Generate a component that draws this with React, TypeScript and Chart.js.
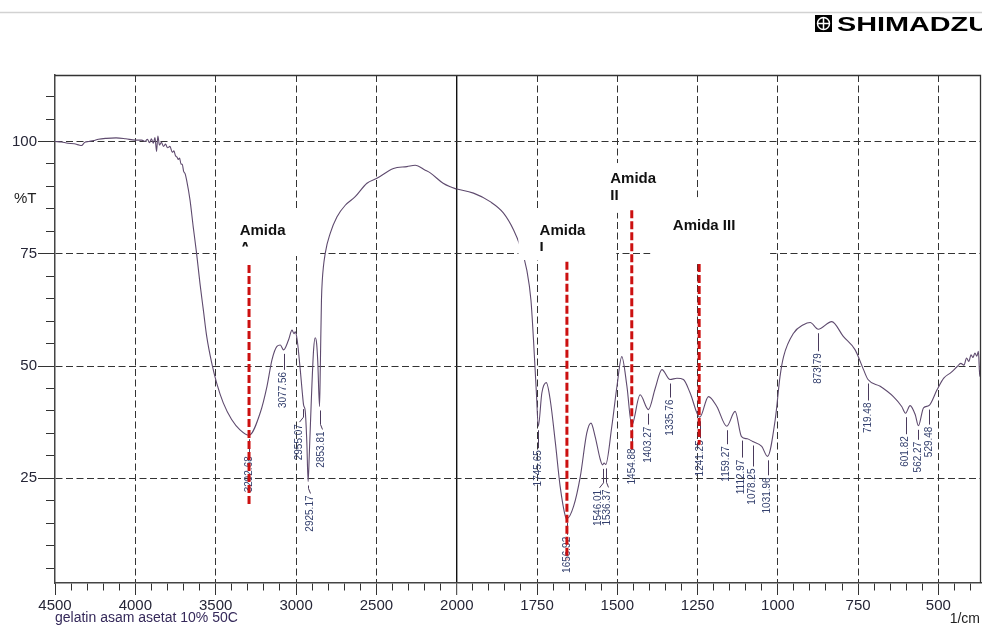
import React, { useEffect, useRef } from 'react';
import { Chart, registerables } from 'chart.js';

Chart.register(...registerables);

// ---------- Spectrum data (wavenumber 1/cm, %T) ----------
// High-wavenumber section (4500 -> 2000), drawn on the compressed left axis
const HIGH_WN = [
  4500, 4460, 4420, 4380, 4350, 4335, 4315, 4290, 4260, 4230, 4180, 4120, 4060, 4000,
  3960, 3940, 3925, 3912, 3900, 3888, 3878, 3868, 3860, 3850, 3838, 3825, 3812, 3800,
  3785, 3770, 3760, 3750, 3740, 3733, 3725, 3716, 3708, 3700, 3690, 3681, 3660, 3640,
  3619, 3598, 3577, 3556, 3525, 3494, 3453, 3401, 3349, 3292, 3223, 3181, 3150, 3119,
  3098, 3078, 3047, 3025, 3013, 3005, 2993, 2974, 2961, 2953, 2943, 2933, 2925, 2918,
  2905, 2891, 2881, 2872, 2865, 2854, 2849, 2842, 2837, 2818, 2787, 2746, 2694, 2632,
  2559, 2497, 2394, 2310, 2259, 2196, 2165, 2085, 2040, 2000,
];
const HIGH_T = [
  100.0, 99.9, 99.6, 99.5, 99.2, 99.1, 99.8, 100.0, 100.2, 100.5, 100.7, 100.8, 100.6, 100.3,
  100.3, 100.0, 100.5, 99.7, 100.6, 99.6, 100.9, 97.8, 101.2, 99.2, 99.8, 98.9, 99.4, 98.6,
  98.9, 97.6, 97.9, 96.8, 96.5, 96.0, 96.3, 95.0, 94.9, 93.4, 92.8, 91.4, 87.0, 81.0,
  75.1, 68.4, 62.5, 56.6, 50.7, 46.2, 41.8, 38.1, 35.8, 34.6, 39.6, 45.5, 51.4, 54.4,
  54.7, 53.6, 55.8, 58.0, 57.2, 57.6, 55.8, 49.2, 44.0, 41.3, 40.0, 33.0, 24.3, 30.0,
  42.5, 53.6, 56.3, 55.0, 51.0, 41.0, 50.0, 64.7, 69.0, 75.2, 79.6, 83.2, 85.8, 87.7,
  90.7, 91.8, 94.0, 94.4, 94.7, 93.6, 93.0, 90.7, 89.9, 89.4,
];
// Low-wavenumber section (2000 -> 367), drawn on the expanded right axis
const LOW_WN = [
  2000, 1948, 1896, 1855, 1823, 1802, 1782, 1769, 1761, 1752, 1746, 1735, 1721, 1709,
  1693, 1678, 1662, 1657, 1636, 1615, 1595, 1582, 1569, 1553, 1546, 1541, 1536, 1517,
  1501, 1486, 1470, 1455, 1429, 1403, 1382, 1361, 1336, 1314, 1294, 1273, 1243, 1216,
  1190, 1159, 1133, 1113, 1095, 1078, 1050, 1032, 1008, 993, 982, 951, 920, 899,
  874, 832, 796, 759, 733, 719, 681, 640, 614, 602, 588, 572, 562, 546,
  529, 504, 483, 460, 441, 430, 420, 412, 405, 398, 392, 386, 380, 375, 371, 367,
];
const LOW_T = [
  89.4, 88.5, 86.6, 84.1, 80.3, 76.6, 71.4, 64.7, 55.8, 44.0, 36.6, 44.0, 46.3, 42.5,
  33.0, 23.2, 16.6, 16.0, 18.8, 25.5, 35.1, 37.3, 34.3, 29.2, 28.0, 28.4, 28.1, 36.6,
  45.5, 52.1, 45.5, 36.8, 43.6, 40.3, 45.0, 49.2, 47.0, 47.3, 47.0, 44.0, 38.6, 43.2,
  41.0, 36.6, 39.9, 34.3, 33.8, 33.2, 32.1, 29.9, 38.1, 47.7, 52.1, 57.3, 59.2, 59.7,
  58.2, 59.9, 56.6, 53.6, 49.2, 47.0, 45.5, 43.2, 41.0, 39.5, 41.2, 39.2, 36.7, 40.7,
  41.2, 44.7, 47.3, 48.6, 49.9, 50.6, 50.2, 51.8, 51.0, 52.5, 51.9, 52.9, 52.2, 53.3, 47.7, 50.5,
];

// Peak table
const PEAK_WN = [
  3292.68, 3077.56, 2955.07, 2925.17, 2853.81, 1745.65, 1656.92, 1546.01, 1536.37, 1454.88, 1403.27,
  1335.76, 1241.25, 1159.27, 1112.97, 1078.25, 1031.96, 873.79, 719.48, 601.82, 562.27, 529.48,
];
const PEAK_T = [
  34.6, 53.6, 41.3, 24.3, 41.0, 36.6, 16.0, 28.0, 28.1, 36.8, 40.3,
  47.0, 38.6, 36.6, 34.3, 33.2, 29.9, 58.2, 47.0, 39.5, 36.7, 41.2,
];

// Amide bands
const AMIDE_NAMES = ['Amida A', 'Amida I', 'Amida II', 'Amida III'];
const AMIDE_WN = [3292.68, 1656.92, 1454.88, 1245];

// Axis ticks
const X_HIGH_TICKS = [4500, 4400, 4300, 4200, 4100, 4000, 3900, 3800, 3700, 3600, 3500, 3400, 3300,
  3200, 3100, 3000, 2900, 2800, 2700, 2600, 2500, 2400, 2300, 2200, 2100, 2000];
const X_HIGH_LABELS = [4500, 4000, 3500, 3000, 2500, 2000];
const X_LOW_TICKS = [1950, 1900, 1850, 1800, 1750, 1700, 1650, 1600, 1550, 1500, 1450, 1400, 1350,
  1300, 1250, 1200, 1150, 1100, 1050, 1000, 950, 900, 850, 800, 750, 700, 650, 600, 550, 500, 450, 400];
const X_LOW_LABELS = [1750, 1500, 1250, 1000, 750, 500];
const Y_TICKS = [5, 10, 15, 20, 25, 30, 35, 40, 45, 50, 55, 60, 65, 70, 75, 80, 85, 90, 95, 100, 105, 110];
const Y_LABELS = [25, 50, 75, 100];

// ---------- annotation layout (pixel offsets / data-space boxes) ----------
const PEAK_DROP = [21, 22, 19, 14, 25, 24, 18, 25, 25, 23, 17, 20, 23, 20, 23, 27, 21, 24, 23, 23, 16, 21];
const PEAK_SHIFT = [0, 0, -4, 2, 2, 0, 0, -4, 2, 0, 0, 0, 0, 0, 0, 0, 0, 0, 0, 0, 0, 0];
const AMIDE_LAYOUT = [
  { box: [3496, 2850, 84.7, 74.5], text: [3351, 79.2], clipT: 76.6, red: [72.5, 19.2] },
  { box: [1808, 1503, 84.7, 73.6], text: [1742, 79.2], clipT: 75.6, red: [73.2, 7.0] },
  { box: [1544, 1341, 95.2, 84.1], text: [1522, 90.7], clipT: null, red: [84.7, 31.4] },
  { box: [1397, 1024, 87.6, 72.7], text: [1327, 80.3], clipT: null, red: [72.7, 32.5] },
];

const FONT = '"Liberation Sans", Arial, Helvetica, sans-serif';
const TICK_COLOR = '#262637';
const GRID_COLOR = '#333333';
const NONE = 'rgba(0,0,0,0)';

function xPix(chart: any, wn: number) {
  return (wn >= 2000 ? chart.scales.xH : chart.scales.xL).getPixelForValue(wn);
}

const ftirPlugin = {
  id: 'ftirDecor',
  beforeDraw(chart: any) {
    const ctx = chart.ctx;
    ctx.save();
    ctx.fillStyle = '#ffffff';
    ctx.fillRect(0, 0, chart.width, chart.height);
    ctx.restore();
  },
  afterDatasetsDraw(chart: any) {
    const ctx = chart.ctx;
    const ys = chart.scales.y;
    const X = (w: number) => xPix(chart, w);
    const Y = (t: number) => ys.getPixelForValue(t);
    ctx.save();

    // white text boxes of the amide labels
    AMIDE_LAYOUT.forEach((L, i) => {
      const x1 = X(L.box[0]);
      const x2 = X(L.box[1]);
      const y1 = Y(L.box[2]);
      const y2 = Y(L.box[3]);
      ctx.fillStyle = '#ffffff';
      ctx.fillRect(x1, y1, x2 - x1, y2 - y1);
      const parts = AMIDE_NAMES[i].split(' ');
      const lines = i === 3 ? [AMIDE_NAMES[i]] : parts;
      ctx.save();
      if (L.clipT !== null) {
        ctx.beginPath();
        ctx.rect(x1, y1, x2 - x1, Y(L.clipT) - y1);
        ctx.clip();
      }
      ctx.fillStyle = '#111111';
      ctx.font = 'bold 15px ' + FONT;
      ctx.textAlign = 'left';
      ctx.textBaseline = 'alphabetic';
      lines.forEach((s, k) => {
        ctx.fillText(s, X(L.text[0]), Y(L.text[1]) + k * 17);
      });
      ctx.restore();
    });

    // peak labels with leaders
    ctx.font = '10px ' + FONT;
    PEAK_WN.forEach((wn, i) => {
      const px = X(wn);
      const py = Y(PEAK_T[i]);
      const top = py + PEAK_DROP[i];
      const tx = px + PEAK_SHIFT[i];
      ctx.strokeStyle = '#4a3a5c';
      ctx.lineWidth = 1;
      ctx.beginPath();
      ctx.moveTo(Math.round(px) + 0.5, py + 4);
      if (PEAK_SHIFT[i] !== 0) {
        ctx.lineTo(Math.round(px) + 0.5, top - 7);
        ctx.lineTo(Math.round(tx) + 0.5, top - 2);
      } else {
        ctx.lineTo(Math.round(px) + 0.5, top - 2);
      }
      ctx.stroke();
      ctx.save();
      ctx.translate(tx, top);
      ctx.rotate(-Math.PI / 2);
      ctx.fillStyle = '#34406e';
      ctx.textAlign = 'right';
      ctx.textBaseline = 'middle';
      ctx.fillText(wn.toFixed(2), 0, 0);
      ctx.restore();
    });

    // red dashed amide markers
    AMIDE_WN.forEach((wn, i) => {
      const L = AMIDE_LAYOUT[i];
      const px = X(wn);
      ctx.strokeStyle = '#cc1010';
      ctx.lineWidth = 3;
      ctx.setLineDash([8, 3]);
      ctx.beginPath();
      ctx.moveTo(px, Y(L.red[0]));
      ctx.lineTo(px, Y(L.red[1]));
      ctx.stroke();
    });
    ctx.restore();
  },
  afterDraw(chart: any) {
    const ctx = chart.ctx;
    const a = chart.chartArea;
    ctx.save();
    // frame top and right
    ctx.strokeStyle = '#333333';
    ctx.lineWidth = 1.3;
    ctx.beginPath();
    ctx.moveTo(a.left, a.top + 0.5);
    ctx.lineTo(a.right - 0.5, a.top + 0.5);
    ctx.lineTo(a.right - 0.5, a.bottom);
    ctx.stroke();

    // top rule
    ctx.strokeStyle = '#d2d2d2';
    ctx.lineWidth = 1.5;
    ctx.beginPath();
    ctx.moveTo(0, 12.5);
    ctx.lineTo(chart.width, 12.5);
    ctx.stroke();

    // logo
    ctx.fillStyle = '#000000';
    ctx.fillRect(815, 15, 17, 17);
    ctx.strokeStyle = '#ffffff';
    ctx.lineWidth = 1.5;
    ctx.beginPath();
    ctx.arc(823.5, 23.5, 6, 0, Math.PI * 2);
    ctx.stroke();
    ctx.beginPath();
    ctx.moveTo(823.5, 17.5);
    ctx.lineTo(823.5, 29.5);
    ctx.moveTo(817.5, 23.5);
    ctx.lineTo(829.5, 23.5);
    ctx.stroke();
    ctx.font = 'bold 20px ' + FONT;
    const w = ctx.measureText('SHIMADZU').width;
    ctx.save();
    ctx.translate(837, 31);
    ctx.scale(152 / w, 1);
    ctx.fillStyle = '#000000';
    ctx.textAlign = 'left';
    ctx.textBaseline = 'alphabetic';
    ctx.fillText('SHIMADZU', 0, 0);
    ctx.restore();

    // texts
    ctx.font = '15px ' + FONT;
    ctx.fillStyle = '#222222';
    ctx.textAlign = 'left';
    ctx.textBaseline = 'alphabetic';
    ctx.fillText('%T', 14, 203);
    ctx.font = '14px ' + FONT;
    ctx.fillStyle = '#35295a';
    ctx.fillText('gelatin asam asetat 10% 50C', 55, 622);
    ctx.fillStyle = '#222222';
    ctx.textAlign = 'right';
    ctx.fillText('1/cm', 980, 623);
    ctx.restore();
  },
};

function xAxis(ticksArr: number[], labels: number[], min: number, max: number, weight: number) {
  const isMajor = (c: any) => c && c.tick && labels.includes(c.tick.value);
  return {
    type: 'linear',
    position: 'bottom',
    stack: 'wn',
    stackWeight: weight,
    reverse: true,
    min,
    max,
    afterBuildTicks: (s: any) => {
      s.ticks = ticksArr.map((v) => ({ value: v }));
    },
    afterFit: (s: any) => {
      s.height = 43;
      s.paddingLeft = 0;
      s.paddingRight = 0;
    },
    ticks: {
      autoSkip: false,
      maxRotation: 0,
      minRotation: 0,
      padding: 2,
      color: TICK_COLOR,
      font: { size: 15, family: FONT },
      callback: (v: any) => (labels.includes(v) ? String(v) : ''),
    },
    grid: {
      color: (c: any) => {
        if (!isMajor(c)) return NONE;
        if (c.tick.value === 4500) return NONE;
        if (c.tick.value === 2000) return '#111111';
        return GRID_COLOR;
      },
      lineWidth: (c: any) => (c && c.tick && c.tick.value === 2000 ? 1.4 : 1),
      tickColor: '#333333',
      tickLength: 12,
      tickWidth: 1,
      tickBorderDash: (c: any) => (isMajor(c) ? [] : [7, 30]),
    },
    border: {
      display: true,
      color: '#444444',
      width: 1.5,
      dash: (c: any) => (c && c.tick && c.tick.value === 2000 ? [] : [7, 3.5]),
    },
  };
}

export default function App() {
  const ref = useRef<HTMLCanvasElement | null>(null);
  useEffect(() => {
    if (!ref.current) return;
    document.body.style.margin = '0';
    Chart.defaults.font.family = FONT;
    const isMajorY = (c: any) => c && c.tick && Y_LABELS.includes(c.tick.value);
    const chart = new Chart(ref.current, {
      type: 'line',
      data: {
        datasets: [
          {
            data: HIGH_WN.map((w, i) => ({ x: w, y: HIGH_T[i] })),
            xAxisID: 'xH',
            yAxisID: 'y',
            borderColor: '#5e4a6e',
            borderWidth: 1.1,
            pointRadius: 0,
            cubicInterpolationMode: 'monotone',
            fill: false,
          },
          {
            data: LOW_WN.map((w, i) => ({ x: w, y: LOW_T[i] })),
            xAxisID: 'xL',
            yAxisID: 'y',
            borderColor: '#5e4a6e',
            borderWidth: 1.1,
            pointRadius: 0,
            cubicInterpolationMode: 'monotone',
            fill: false,
          },
        ],
      },
      options: {
        animation: false,
        responsive: false,
        devicePixelRatio: 1,
        layout: { padding: { top: 75, left: 0, right: 1, bottom: 0 } },
        plugins: { legend: { display: false }, tooltip: { enabled: false } },
        scales: {
          xH: xAxis(X_HIGH_TICKS, X_HIGH_LABELS, 2000, 4500, 402),
          xL: xAxis(X_LOW_TICKS, X_LOW_LABELS, 367, 2000, 524.5),
          y: {
            type: 'linear',
            position: 'left',
            min: 1.7,
            max: 114.8,
            afterBuildTicks: (s: any) => {
              s.ticks = Y_TICKS.map((v) => ({ value: v }));
            },
            afterFit: (s: any) => {
              s.width = 55;
              s.paddingTop = 0;
              s.paddingBottom = 0;
            },
            ticks: {
              padding: 1,
              color: TICK_COLOR,
              font: { size: 15, family: FONT },
              callback: (v: any) => (Y_LABELS.includes(v) ? String(v) : ''),
            },
            grid: {
              color: (c: any) => (isMajorY(c) ? GRID_COLOR : NONE),
              tickColor: '#333333',
              tickLength: 17,
              tickWidth: 1,
              tickBorderDash: (c: any) => (isMajorY(c) ? [] : [9, 8]),
              tickBorderDashOffset: (c: any) => (isMajorY(c) ? 0 : 9),
            },
            border: { display: true, color: '#444444', width: 1.5, dash: [7, 3.5] },
          },
        },
      } as any,
      plugins: [ftirPlugin],
    });
    return () => chart.destroy();
  }, []);
  return (
    <div style={{ position: 'absolute', left: 0, top: 0, width: 982, height: 626 }}>
      <canvas ref={ref} width={982} height={626} style={{ display: 'block' }} />
    </div>
  );
}
